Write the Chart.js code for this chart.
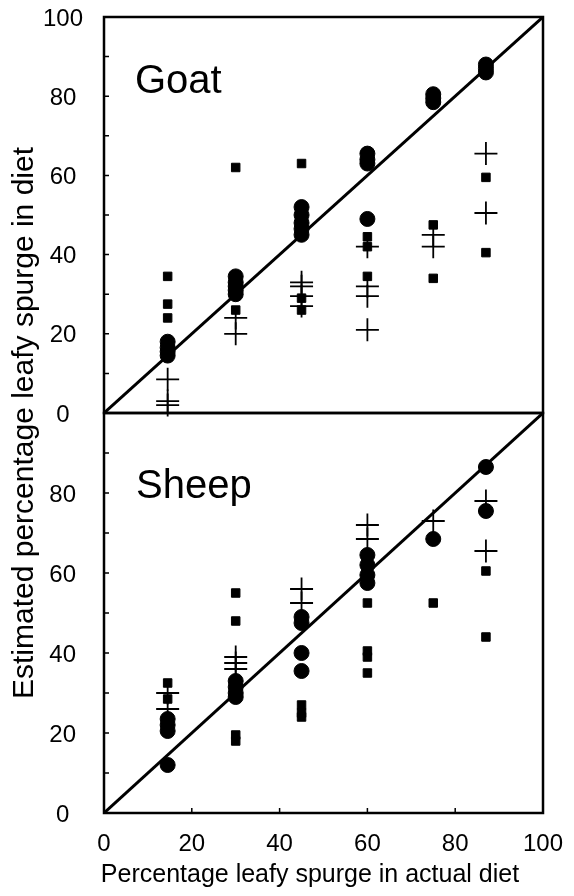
<!DOCTYPE html>
<html>
<head>
<meta charset="utf-8">
<script src="https://cdn.jsdelivr.net/npm/chart.js@4"></script>
<style>
  body { margin: 0; background: #fff; }
  canvas { position: absolute; left: 0; top: 0; }
</style>
</head>
<body>
<canvas id="goat" width="574" height="896"></canvas>
<canvas id="sheep" width="574" height="896"></canvas>
<script>
const actualDiet = [14.5, 30, 45, 60, 75, 87];
const xTicks = [0, 20, 40, 60, 80, 100];
const yTicks = [0, 20, 40, 60, 80, 100];
const diagonal = [0, 100];

// one inner list per actual diet level
const goatCircles = [[18, 16.5, 15.5, 14.5], [34.5, 33, 32, 31, 30], [52, 50, 48, 46.5, 45], [65.5, 64, 63, 49], [80.5, 79.5, 78.5], [88, 87, 86]];
const goatSquares = [[34.5, 27.5, 24], [62, 26], [63, 29, 26], [44.5, 42, 34.5], [47.5, 34], [59.5, 40.5]];
const goatCrosses = [[8.5, 3, 2], [24, 20], [33, 32, 29.5, 27], [42, 32, 29.5, 21], [45, 42], [65.5, 50.5]];

const sheepCircles = [[23.5, 22, 20.5, 12], [33, 31.5, 30, 29], [49, 47.5, 40, 35.5], [64.5, 62, 59.5, 57.5], [68.5], [86.5, 75.5]];
const sheepSquares = [[32.5, 28.5], [55, 48, 19.5, 18], [27, 25, 24], [52.5, 40.5, 39, 35], [52.5], [60.5, 44]];
const sheepCrosses = [[30, 26], [39, 37.5, 36], [56, 52.5], [72, 68.5], [73], [78, 65.5]];

const FONT = '"Liberation Sans", Arial, sans-serif';
Chart.defaults.font.family = FONT;
Chart.defaults.color = '#000';

const toPoints = cols => cols.flatMap((ys, i) => ys.map(y => ({ x: actualDiet[i], y })));

function makeDatasets(circles, squares, crosses) {
  return [
    { data: diagonal.map(v => ({ x: v, y: v })), showLine: true, borderColor: '#000', borderWidth: 3, pointRadius: 0 },
    { data: toPoints(squares), pointStyle: 'rect', pointRadius: 6, backgroundColor: '#000', borderColor: '#000', borderWidth: 1, clip: false },
    { data: toPoints(crosses), pointStyle: 'cross', pointRadius: 11.5, borderColor: '#000', borderWidth: 1.8, clip: false },
    { data: toPoints(circles), pointStyle: 'circle', pointRadius: 7.5, backgroundColor: '#000', borderColor: '#000', borderWidth: 1, clip: false }
  ];
}

const panelDecor = {
  id: 'panelDecor',
  afterDatasetsDraw(chart, args, opts) {
    const { ctx, chartArea: a, scales } = chart;
    ctx.save();
    ctx.strokeStyle = '#000';
    ctx.lineWidth = 2.5;
    ctx.strokeRect(a.left, a.top, a.right - a.left, a.bottom - a.top);

    ctx.lineWidth = 1.5;
    ctx.beginPath();
    for (let v = 10; v < 100; v += 10) {
      const y = scales.y.getPixelForValue(v);
      ctx.moveTo(a.left, y);
      ctx.lineTo(a.left + 5, y);
    }
    if (opts.bottomTicks) {
      xTicks.slice(1, -1).forEach(v => {
        const x = scales.x.getPixelForValue(v);
        ctx.moveTo(x, a.bottom);
        ctx.lineTo(x, a.bottom - 5);
      });
    }
    ctx.stroke();

    ctx.fillStyle = '#000';
    ctx.textBaseline = 'alphabetic';
    ctx.textAlign = 'left';
    ctx.font = '40px ' + FONT;
    ctx.fillText(opts.label, opts.labelX, opts.labelY);

    if (opts.titles) {
      ctx.textAlign = 'center';
      ctx.font = '25px ' + FONT;
      ctx.fillText('Percentage leafy spurge in actual diet', 310, 882);
      ctx.translate(33, 423);
      ctx.rotate(-Math.PI / 2);
      ctx.font = '30px ' + FONT;
      ctx.fillText('Estimated percentage leafy spurge in diet', 0, 0);
    }
    ctx.restore();
  }
};

function yAxis(ticks, padding) {
  return {
    type: 'linear', min: 0, max: 100,
    grid: { display: false }, border: { display: false },
    afterBuildTicks: axis => { axis.ticks = ticks.map(value => ({ value })); },
    ticks: { font: { size: 24 }, crossAlign: 'center', padding: padding, labelOffset: 2 },
    afterFit: s => { s.width = 104; s.paddingTop = 0; s.paddingBottom = 0; }
  };
}

new Chart(document.getElementById('goat'), {
  type: 'scatter',
  data: { datasets: makeDatasets(goatCircles, goatSquares, goatCrosses) },
  options: {
    responsive: false, animation: false, devicePixelRatio: 1, events: [],
    layout: { padding: { left: 0, top: 17, right: 31, bottom: 483 } },
    plugins: { legend: { display: false }, tooltip: { enabled: false },
      panelDecor: { label: 'Goat', labelX: 135, labelY: 93 } },
    scales: {
      x: { type: 'linear', min: 0, max: 100, display: false },
      y: yAxis(yTicks, 13)
    }
  },
  plugins: [panelDecor]
});

new Chart(document.getElementById('sheep'), {
  type: 'scatter',
  data: { datasets: makeDatasets(sheepCircles, sheepSquares, sheepCrosses) },
  options: {
    responsive: false, animation: false, devicePixelRatio: 1, events: [],
    layout: { padding: { left: 0, top: 413, right: 31, bottom: 0 } },
    plugins: { legend: { display: false }, tooltip: { enabled: false },
      panelDecor: { label: 'Sheep', labelX: 136, labelY: 498, bottomTicks: true, titles: true } },
    scales: {
      x: {
        type: 'linear', min: 0, max: 100,
        grid: { display: false }, border: { display: false },
        afterBuildTicks: axis => { axis.ticks = xTicks.map(value => ({ value })); },
        ticks: { font: { size: 24 }, padding: 9 },
        afterFit: s => { s.height = 83; s.paddingLeft = 0; s.paddingRight = 0; }
      },
      y: yAxis(yTicks.filter(v => v < 100), 20)
    }
  },
  plugins: [panelDecor]
});
</script>
</body>
</html>
